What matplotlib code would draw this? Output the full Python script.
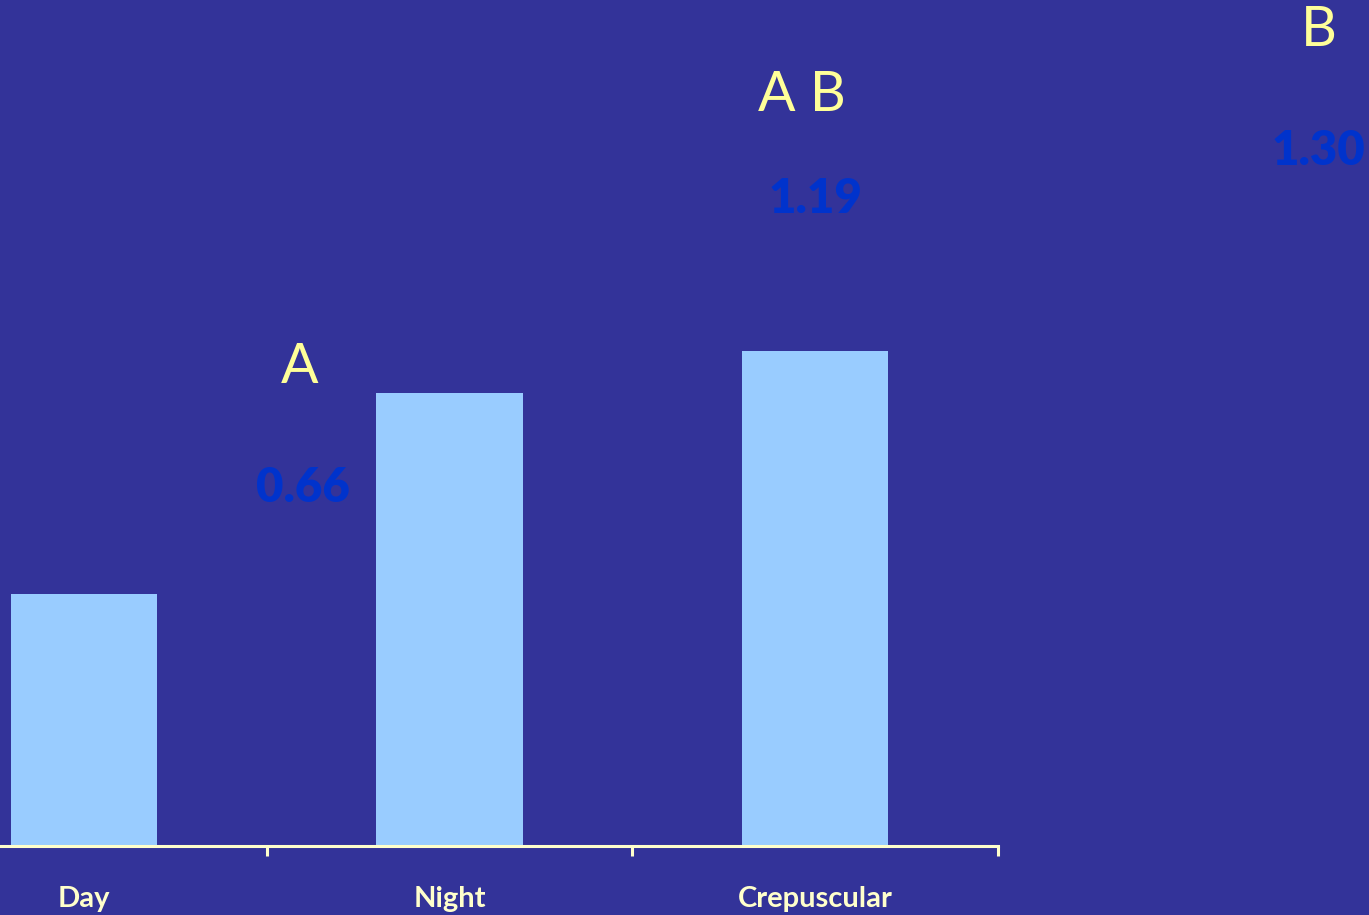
import matplotlib.pyplot as plt

categories = ["Day", "Night", "Crepuscular"]
values = [0.66, 1.19, 1.30]
groups = ["A", "A B", "B"]

# where the value and group labels sit (data coords)
value_pos = [(0.60, 0.940), (2.00, 1.697), (3.375, 1.824)]
group_pos = [(0.59, 1.255), (1.965, 1.970), (3.378, 2.140)]

bg = "#333399"
fig = plt.figure(figsize=(13.69, 9.15), dpi=100, facecolor=bg)
ax = fig.add_axes([-99 / 1369, 69 / 915, 1097 / 1369, 846 / 915])
ax.set_facecolor(bg)

x = range(len(categories))
ax.bar(x, values, width=0.40, color="#99CCFF", zorder=2)

ax.set_xlim(-0.5, 2.5)
ax.set_ylim(0, 2.22)

for s in ["top", "right", "left"]:
    ax.spines[s].set_visible(False)
ax.spines["bottom"].set_color("#FFFFCC")
ax.spines["bottom"].set_linewidth(2.2)
ax.spines["bottom"].set_zorder(3)

ax.set_yticks([])
ax.set_xticks(list(x))
ax.set_xticklabels(categories, fontfamily="Lato", fontweight="bold",
                   fontsize=21, color="#FFFFCC")
ax.tick_params(axis="x", which="major", length=0, pad=29)
ax.set_xticks([-0.5, 0.5, 1.5, 2.5], minor=True)
ax.tick_params(axis="x", which="minor", direction="out", length=7,
               width=2.2, color="#FFFFCC")

for v, (px, py) in zip(values, value_pos):
    ax.text(px, py, f"{v:.2f}", ha="center", va="center", fontfamily="Lato",
            fontweight="heavy", fontsize=34, color="#0033CC", clip_on=False)

for g, (px, py) in zip(groups, group_pos):
    ax.text(px, py, g, ha="center", va="center", fontfamily="Lato",
            fontsize=40, color="#FFFF99", clip_on=False)

fig.savefig("out.png", dpi=100, facecolor=bg)
